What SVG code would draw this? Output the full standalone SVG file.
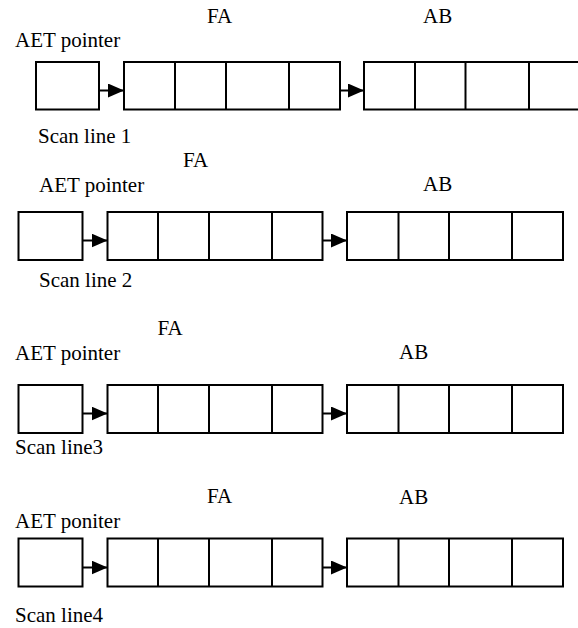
<svg xmlns="http://www.w3.org/2000/svg" width="578" height="628" viewBox="0 0 578 628">
<style>
  .box { fill: #ffffff; stroke: #000000; stroke-width: 2; }
  .div { stroke: #000000; stroke-width: 2; }
  .conn { stroke: #000000; stroke-width: 2; fill: none; marker-end: url(#arrow); }
  text { font-family: "Liberation Serif", "Times New Roman", serif; font-size: 21px; fill: #000000; }
</style>
<defs>
  <marker id="arrow" markerUnits="userSpaceOnUse" viewBox="0 0 16 14" markerWidth="16" markerHeight="14" refX="16" refY="7" orient="auto">
    <path d="M0,0 L16,7 L0,14 Z" fill="#000000"/>
  </marker>
</defs>
<rect width="578" height="628" fill="#ffffff"/>

<!-- Row 1 -->
<g id="row1-labels">
  <text x="207" y="23">FA</text>
  <text x="423" y="23">AB</text>
  <text x="15" y="47">AET pointer</text>
  <text x="38" y="142.5">Scan line 1</text>
</g>
<g id="row1-aet"><rect class="box" x="36" y="62" width="63" height="47.5"/></g>
<g id="row1-fa">
  <rect class="box" x="124" y="62" width="216" height="47.5"/>
  <line class="div" x1="175" y1="62" x2="175" y2="109.5"/>
  <line class="div" x1="226" y1="62" x2="226" y2="109.5"/>
  <line class="div" x1="289" y1="62" x2="289" y2="109.5"/>
</g>
<g id="row1-ab">
  <rect class="box" x="364" y="62" width="216" height="47.5"/>
  <line class="div" x1="415" y1="62" x2="415" y2="109.5"/>
  <line class="div" x1="465.5" y1="62" x2="465.5" y2="109.5"/>
  <line class="div" x1="529" y1="62" x2="529" y2="109.5"/>
</g>

<!-- Row 2 -->
<g id="row2-labels">
  <text x="183" y="167">FA</text>
  <text x="423" y="191">AB</text>
  <text x="39" y="191.5">AET pointer</text>
  <text x="39" y="287">Scan line 2</text>
</g>
<g id="row2-aet"><rect class="box" x="18.5" y="212" width="64" height="48"/></g>
<g id="row2-fa">
  <rect class="box" x="107.5" y="212" width="215" height="48"/>
  <line class="div" x1="158" y1="212" x2="158" y2="260"/>
  <line class="div" x1="209" y1="212" x2="209" y2="260"/>
  <line class="div" x1="272" y1="212" x2="272" y2="260"/>
</g>
<g id="row2-ab">
  <rect class="box" x="347" y="212" width="216" height="48"/>
  <line class="div" x1="398.5" y1="212" x2="398.5" y2="260"/>
  <line class="div" x1="449" y1="212" x2="449" y2="260"/>
  <line class="div" x1="512" y1="212" x2="512" y2="260"/>
</g>

<!-- Row 3 -->
<g id="row3-labels">
  <text x="157.5" y="335">FA</text>
  <text x="399" y="358.5">AB</text>
  <text x="15" y="359.5">AET pointer</text>
  <text x="15" y="453.5">Scan line3</text>
</g>
<g id="row3-aet"><rect class="box" x="18.5" y="385" width="64" height="48"/></g>
<g id="row3-fa">
  <rect class="box" x="107.5" y="385" width="215" height="48"/>
  <line class="div" x1="158" y1="385" x2="158" y2="433"/>
  <line class="div" x1="209" y1="385" x2="209" y2="433"/>
  <line class="div" x1="272" y1="385" x2="272" y2="433"/>
</g>
<g id="row3-ab">
  <rect class="box" x="347" y="385" width="216" height="48"/>
  <line class="div" x1="398.5" y1="385" x2="398.5" y2="433"/>
  <line class="div" x1="449" y1="385" x2="449" y2="433"/>
  <line class="div" x1="512" y1="385" x2="512" y2="433"/>
</g>

<!-- Row 4 -->
<g id="row4-labels">
  <text x="207" y="502.5">FA</text>
  <text x="399" y="503.5">AB</text>
  <text x="15" y="527.5">AET poniter</text>
  <text x="15" y="622">Scan line4</text>
</g>
<g id="row4-aet"><rect class="box" x="18.5" y="538.5" width="64" height="48"/></g>
<g id="row4-fa">
  <rect class="box" x="107.5" y="538.5" width="215" height="48"/>
  <line class="div" x1="158" y1="538.5" x2="158" y2="586.5"/>
  <line class="div" x1="209" y1="538.5" x2="209" y2="586.5"/>
  <line class="div" x1="272" y1="538.5" x2="272" y2="586.5"/>
</g>
<g id="row4-ab">
  <rect class="box" x="347" y="538.5" width="216" height="48"/>
  <line class="div" x1="398.5" y1="538.5" x2="398.5" y2="586.5"/>
  <line class="div" x1="449" y1="538.5" x2="449" y2="586.5"/>
  <line class="div" x1="512" y1="538.5" x2="512" y2="586.5"/>
</g>

<g id="connectors">
  <line class="conn" x1="99" y1="90.5" x2="124" y2="90.5"/>
  <line class="conn" x1="340" y1="90.5" x2="364" y2="90.5"/>
  <line class="conn" x1="82.5" y1="240.5" x2="107.5" y2="240.5"/>
  <line class="conn" x1="322.5" y1="240.5" x2="347" y2="240.5"/>
  <line class="conn" x1="82.5" y1="413.5" x2="107.5" y2="413.5"/>
  <line class="conn" x1="322.5" y1="413.5" x2="347" y2="413.5"/>
  <line class="conn" x1="82.5" y1="567.5" x2="107.5" y2="567.5"/>
  <line class="conn" x1="322.5" y1="567.5" x2="347" y2="567.5"/>
</g>
</svg>
